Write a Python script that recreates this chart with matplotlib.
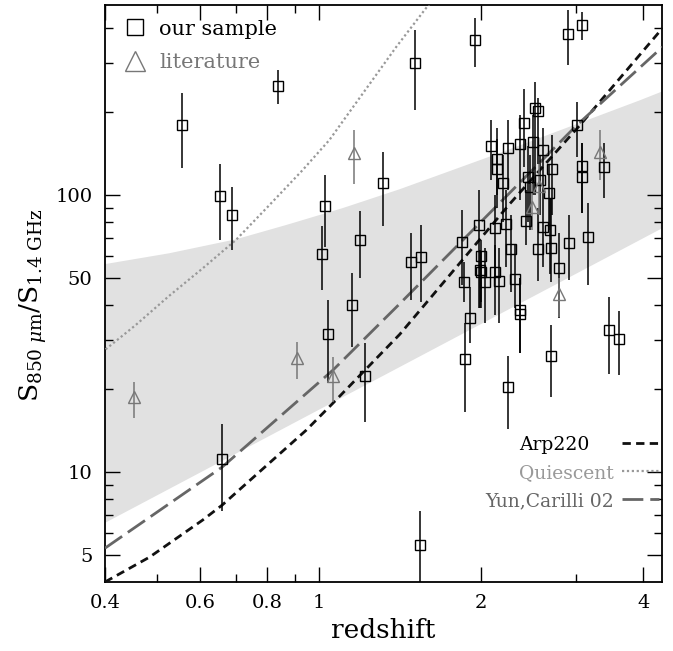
import numpy as np
import matplotlib.pyplot as plt
from matplotlib.lines import Line2D
from matplotlib.ticker import FixedLocator, FixedFormatter, NullFormatter

plt.rcParams['font.family'] = ['DejaVu Serif']
plt.rcParams['mathtext.fontset'] = 'dejavuserif'

# our sample: redshift, ratio, lower / upper end of error bar
samp_z = [0.557, 0.840, 0.653, 0.690, 1.025, 1.189, 1.312, 1.010, 1.150, 1.038,
          1.218, 0.660, 1.537, 1.504, 1.950, 2.899, 3.070, 2.513, 2.550, 2.401,
          3.013, 2.088, 2.237, 2.364, 2.495, 2.598, 2.143, 2.134, 2.195, 2.701,
          3.070, 3.070, 3.382, 2.437, 2.460, 2.568, 2.673, 1.981, 2.118, 2.227,
          2.419, 2.598, 2.681, 1.845, 2.268, 2.550, 2.692, 2.911, 3.158, 2.790,
          1.995, 1.987, 1.995, 2.118, 1.858, 2.029, 2.158, 2.311, 2.357, 2.364,
          1.904, 1.869, 2.246, 2.692, 3.455, 3.597, 1.480, 1.542]
samp_r = [179, 248, 99.2, 84.7, 91.5, 68.8, 111, 61.2, 40.1, 31.4,
          22.2, 11.1, 5.43, 299, 363, 381, 412, 206, 202, 182,
          179, 151, 148, 153, 156, 146, 135, 124, 111, 124,
          127, 116, 126, 116, 107, 113, 102, 77.9, 75.8, 78.4,
          80.7, 76.8, 74.7, 67.8, 63.8, 63.6, 64.2, 66.9, 70.7, 54.6,
          60.2, 53.6, 52.7, 52.8, 48.4, 48.6, 48.9, 49.6, 38.4, 37.1,
          36.1, 25.5, 20.2, 26.3, 32.5, 30.2, 57.1, 59.6]
samp_lo = [125, 213, 68.8, 63.3, 64.9, 50.1, 77.3, 45.4, 28.2, 20.9,
           15.1, 7.2, 4.0, 203, 290, 295, 363, 100, 130, 126,
           137, 113, 104, 96, 100, 100, 100, 90, 80, 84.7,
           86, 86, 97.5, 80, 75, 85, 75, 39, 50, 55,
           66, 55, 52, 47.3, 44.6, 48.9, 48.5, 49.3, 47.3, 35.9,
           41.1, 39, 39, 36.8, 41.1, 34.5, 34.5, 39, 26.9, 26.9,
           29.2, 16.4, 14.3, 18.6, 22.5, 22.4, 41.7, 41.1]
samp_hi = [234, 283, 129, 107, 118, 87.5, 143, 77.3, 52.3, 41.7,
           29.2, 14.9, 7.2, 395, 436, 466, 459, 256, 224, 242,
           217, 187, 187, 195, 195, 175, 175, 160, 140, 165,
           154, 154, 154, 150, 140, 140, 130, 104, 100, 104,
           104, 100, 97, 88.3, 84.7, 89.7, 97.5, 84.7, 93.6, 72.9,
           68.8, 63.3, 63, 66, 57.3, 64.4, 64.4, 66, 50.1, 50,
           46.5, 34.5, 26.2, 33.9, 42.8, 38.1, 72.9, 77.9]

# literature
lit_z = [0.452, 0.910, 1.060, 1.158, 3.320, 2.561, 2.489, 2.786]
lit_r = [18.7, 25.8, 22.2, 142, 143, 108, 90.7, 44.0]
lit_lo = [15.7, 21.6, 17.9, 110, 113, 85, 75, 36.3]
lit_hi = [21.2, 29.5, 25.9, 172, 172, 130, 110, 50]

# model tracks
arp_z = [0.4, 0.484, 0.607, 0.66, 0.946, 1.06, 1.411, 2.259, 3.05, 4.34]
arp_r = [4.0, 4.92, 6.69, 7.58, 14.15, 17.7, 31.4, 93, 179, 401]
yc_z = [0.4, 0.66, 1.06, 1.411, 3.01, 4.34]
yc_r = [5.3, 10.4, 23.3, 40.5, 179, 343]
qui_z = [0.401, 0.456, 0.526, 0.607, 0.700, 0.808, 0.931, 1.044, 1.39, 1.60]
qui_r = [27.7, 33.9, 43.2, 54.3, 68.8, 92.0, 123, 158, 343, 490]

# shaded range
band_up_z = [0.4, 0.526, 0.700, 0.867, 1.105, 1.411, 2.165, 3.94, 4.34]
band_up_r = [56.3, 61.6, 69.2, 77.9, 89.7, 105, 142, 220, 237]
band_lo_z = [0.4, 4.34]
band_lo_r = [6.54, 76.0]

xticks = [0.4, 0.6, 0.8, 1, 2, 4]
xtick_labels = ['0.4', '0.6', '0.8', '1', '2', '4']
xminor = [0.5, 0.7, 0.9, 3]
yticks = [5, 10, 50, 100]
ytick_labels = ['5', '10', '50', '100']
yminor = [6, 7, 8, 9, 20, 30, 40, 60, 70, 80, 90, 200, 300, 400]

fig = plt.figure(figsize=(6.73, 6.51), dpi=100)
ax = fig.add_axes([0.156, 0.106, 0.8276, 0.8863])
ax.set_xscale('log')
ax.set_yscale('log')

ax.fill(np.concatenate([band_up_z, band_lo_z[::-1]]),
        np.concatenate([band_up_r, band_lo_r[::-1]]),
        color='#e1e1e1', lw=0, zorder=0)

ax.plot(arp_z, arp_r, color='#111111', lw=2.0, ls=(0, (3, 1.9)), zorder=3)
ax.plot(qui_z, qui_r, color='#999999', lw=1.6, ls=(0, (1, 1.2)), zorder=3)
ax.plot(yc_z, yc_r, color='#666666', lw=2.0, ls=(0, (7.5, 2.5)), zorder=3)

samp_z = np.array(samp_z)
samp_r = np.array(samp_r)
ax.errorbar(samp_z, samp_r,
            yerr=[samp_r - np.array(samp_lo), np.array(samp_hi) - samp_r],
            fmt='s', ms=6.5, mfc='none', mec='black', mew=1.0,
            ecolor='black', elinewidth=1.1, capsize=0, zorder=4)

lit_z = np.array(lit_z)
lit_r = np.array(lit_r)
ax.errorbar(lit_z, lit_r,
            yerr=[lit_r - np.array(lit_lo), np.array(lit_hi) - lit_r],
            fmt='^', ms=8, mfc='none', mec='#777777', mew=1.0,
            ecolor='#777777', elinewidth=1.1, capsize=0, zorder=4)

ax.set_xlim(0.4, 4.33)
ax.set_ylim(4.0, 486)

ax.xaxis.set_major_locator(FixedLocator(xticks))
ax.xaxis.set_major_formatter(FixedFormatter(xtick_labels))
ax.xaxis.set_minor_locator(FixedLocator(xminor))
ax.xaxis.set_minor_formatter(NullFormatter())
ax.yaxis.set_major_locator(FixedLocator(yticks))
ax.yaxis.set_major_formatter(FixedFormatter(ytick_labels))
ax.yaxis.set_minor_locator(FixedLocator(yminor))
ax.yaxis.set_minor_formatter(NullFormatter())

ax.tick_params(which='both', direction='in', top=True, right=True, labelsize=14)
ax.tick_params(which='major', length=11, width=1.0, pad=9)
ax.tick_params(which='minor', length=6, width=1.0)
for sp in ax.spines.values():
    sp.set_linewidth(1.3)

ax.set_xlabel('redshift', fontsize=19)
ax.set_ylabel(r'S$_{850\ \mu\mathrm{m}}$/S$_{1.4\ \mathrm{GHz}}$', fontsize=19)
ax.yaxis.set_label_coords(-0.1, 0.48)

h1 = [Line2D([], [], ls='none', marker='s', ms=11, mfc='none', mec='black', mew=1.0),
      Line2D([], [], ls='none', marker='^', ms=14, mfc='none', mec='#777777', mew=1.0)]
leg1 = ax.legend(h1, ['our sample', 'literature'], loc='upper left', frameon=False,
                 fontsize=15, labelcolor=['black', '#777777'], handlelength=1.5,
                 handletextpad=0.4, borderaxespad=0.3, labelspacing=0.7)
ax.add_artist(leg1)

h2 = [Line2D([], [], color='#111111', lw=2.0, ls=(0, (3, 1.9))),
      Line2D([], [], color='#999999', lw=1.6, ls=(0, (1, 1.2))),
      Line2D([], [], color='#666666', lw=2.0, ls=(0, (7.5, 2.5)))]
ax.legend(h2, ['Arp220    ', 'Quiescent', 'Yun,Carilli 02'], loc='lower right',
          bbox_to_anchor=(0.995, 0.125), frameon=False, markerfirst=False,
          fontsize=13.5, labelcolor=['black', '#999999', '#666666'],
          handlelength=2.0, handletextpad=0.43, labelspacing=0.54,
          borderaxespad=0, borderpad=0)

fig.savefig('out.png', dpi=100)
